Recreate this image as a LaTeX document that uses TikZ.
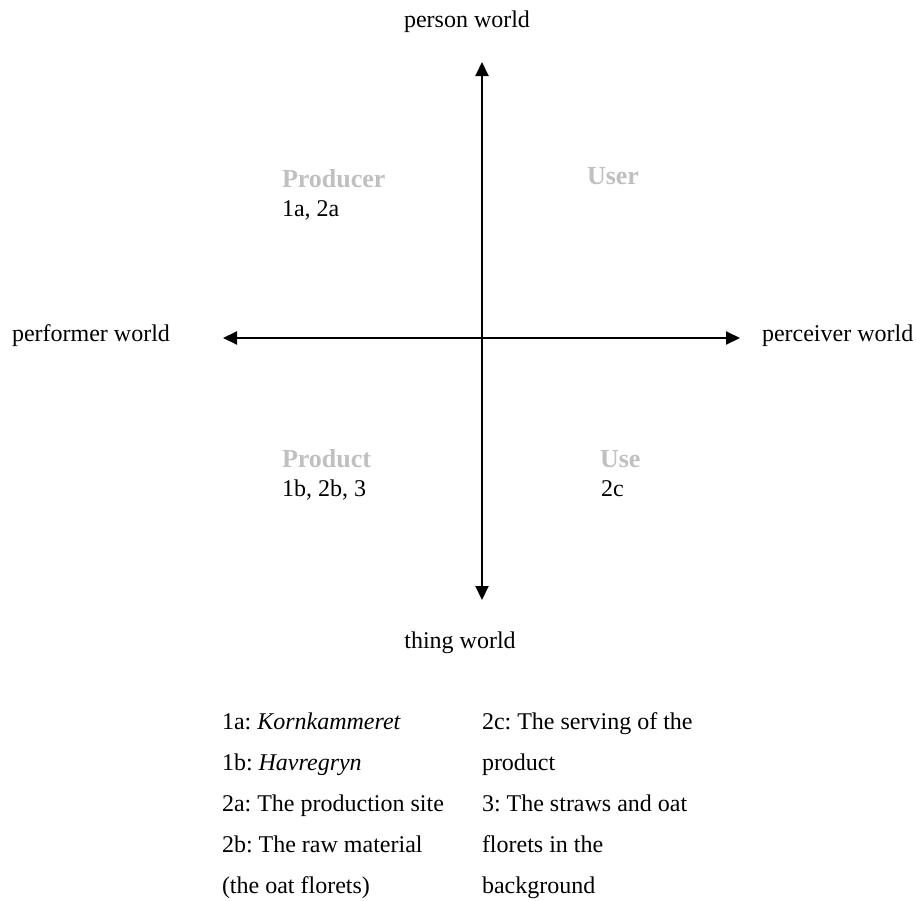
\documentclass[tikz,border=0pt]{standalone}
\usepackage{fontspec}
\setmainfont{Liberation Serif}
\usetikzlibrary{arrows.meta}
\definecolor{qgray}{HTML}{C0C0C0}
\frenchspacing
\begin{document}
\begin{tikzpicture}[x=0.5pt,y=-0.5pt,
  every node/.style={inner sep=0pt,outer sep=0pt,font=\fontsize{12}{14}\selectfont},
  axislabel/.style={anchor=base},
  sidelabel/.style={anchor=base west},
  quad/.style={anchor=base west,text=qgray,font=\fontsize{13}{15}\selectfont\bfseries},
  nums/.style={anchor=base west},
  legend/.style={anchor=base west},
  axis/.style={line width=1pt,{Triangle[length=7pt,width=6.5pt]}-{Triangle[length=7pt,width=6.5pt]}}]
\useasboundingbox (0,0) rectangle (916,900);
% axes end points
\coordinate (top) at (482,62);
\coordinate (bottom) at (482,600);
\coordinate (left) at (223,338);
\coordinate (right) at (740,338);
\draw[axis] (bottom) -- (top);
\draw[axis] (left) -- (right);
% axis labels
\node[axislabel] (person) at (467,27) {person world};
\node[axislabel] (thing) at (460,648) {thing world};
\node[sidelabel] (performer) at (12,341) {performer world};
\node[sidelabel] (perceiver) at (762,341) {perceiver world};
% quadrant labels
\node[quad] (producer) at (282,187) {Producer};
\node[nums] (n1) at (282,216) {1a, 2a};
\node[quad] (user) at (587,184) {User};
\node[quad] (product) at (282,467) {Product};
\node[nums] (n3) at (282,496) {1b, 2b, 3};
\node[quad] (use) at (600,467) {Use};
\node[nums] (n4) at (601,496) {2c};
% legend
\node[legend] (l1) at (222,729) {1a: \textit{Kornkammeret}};
\node[legend] (l2) at (222,770) {1b: \textit{Havregryn}};
\node[legend] (l3) at (222,811) {2a: The production site};
\node[legend] (l4) at (222,852) {2b: The raw material};
\node[legend] (l5) at (222,893) {(the oat florets)};
\node[legend] (r1) at (482,729) {2c: The serving of the};
\node[legend] (r2) at (482,770) {product};
\node[legend] (r3) at (482,811) {3: The straws and oat};
\node[legend] (r4) at (482,852) {florets in the};
\node[legend] (r5) at (482,893) {background};
\end{tikzpicture}
\end{document}
